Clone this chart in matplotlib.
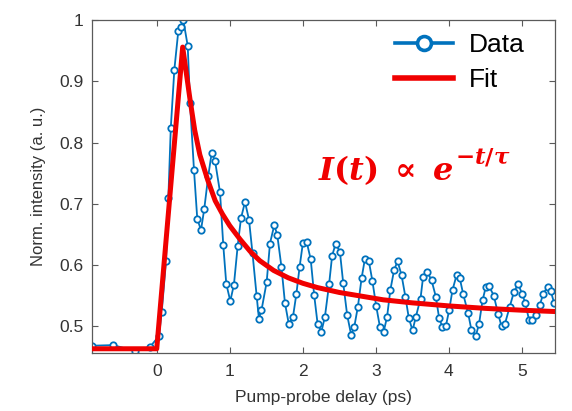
import matplotlib
matplotlib.use("Agg")
import matplotlib.pyplot as plt
from matplotlib.lines import Line2D

# ---- data ----
t_data = [-0.881, -0.594, -0.297, -0.092,
          0.031, 0.068, 0.127, 0.159, 0.192, 0.241, 0.295, 0.332, 0.364, 0.424,
          0.456, 0.510, 0.555, 0.606, 0.651, 0.706, 0.752, 0.798, 0.866, 0.911,
          0.952, 1.007, 1.057, 1.108, 1.153, 1.208, 1.263, 1.311, 1.368, 1.399,
          1.434, 1.505, 1.550, 1.609, 1.650, 1.707, 1.755, 1.807, 1.865, 1.912,
          1.956, 2.001, 2.052, 2.108, 2.155, 2.202, 2.254, 2.302, 2.360, 2.401,
          2.450, 2.508, 2.553, 2.607, 2.661, 2.703, 2.754, 2.804, 2.850, 2.904,
          2.952, 3.004, 3.055, 3.107, 3.153, 3.198, 3.250, 3.297, 3.352, 3.404,
          3.451, 3.502, 3.547, 3.611, 3.647, 3.702, 3.762, 3.821, 3.866, 3.910,
          3.958, 4.003, 4.049, 4.104, 4.149, 4.194, 4.263, 4.309, 4.368, 4.413,
          4.460, 4.505, 4.546, 4.614, 4.673, 4.720, 4.765, 4.833, 4.888, 4.947,
          5.001, 5.045, 5.097, 5.144, 5.198, 5.243, 5.291, 5.350, 5.394, 5.440]
i_data = [0.468, 0.469, 0.459, 0.466,
          0.484, 0.523, 0.606, 0.709, 0.823, 0.919, 0.982, 0.989, 1.000, 0.958,
          0.864, 0.755, 0.675, 0.657, 0.692, 0.746, 0.783, 0.770, 0.719, 0.632,
          0.569, 0.541, 0.568, 0.631, 0.676, 0.703, 0.674, 0.619, 0.549, 0.512,
          0.526, 0.572, 0.635, 0.665, 0.649, 0.597, 0.538, 0.504, 0.515, 0.553,
          0.597, 0.636, 0.638, 0.609, 0.551, 0.504, 0.491, 0.515, 0.569, 0.615,
          0.635, 0.621, 0.570, 0.518, 0.486, 0.498, 0.532, 0.578, 0.610, 0.606,
          0.574, 0.533, 0.499, 0.491, 0.515, 0.559, 0.592, 0.606, 0.583, 0.548,
          0.513, 0.493, 0.515, 0.545, 0.581, 0.589, 0.575, 0.548, 0.513, 0.499,
          0.500, 0.526, 0.559, 0.583, 0.578, 0.553, 0.521, 0.493, 0.484, 0.504,
          0.542, 0.564, 0.566, 0.550, 0.520, 0.500, 0.503, 0.532, 0.555, 0.569,
          0.553, 0.538, 0.510, 0.510, 0.518, 0.534, 0.553, 0.564, 0.557, 0.538]

t_fit = [-0.885, 0.0, 0.355, 0.456, 0.52, 0.59, 0.70, 0.80, 0.90, 1.0, 1.14,
         1.28, 1.41, 1.6, 1.8, 2.0, 2.2, 2.5, 2.8, 3.1, 3.5, 4.0, 4.5, 5.0, 5.42]
i_fit = [0.463, 0.463, 0.956, 0.870, 0.820, 0.780, 0.738, 0.705, 0.683, 0.664,
         0.642, 0.622, 0.607, 0.591, 0.579, 0.570, 0.563, 0.555, 0.549, 0.543,
         0.538, 0.533, 0.529, 0.526, 0.524]

x_ticks = [0, 1, 2, 3, 4, 5]
y_ticks = [0.5, 0.6, 0.7, 0.8, 0.9, 1.0]
y_ticklabels = ["0.5", "0.6", "0.7", "0.8", "0.9", "1"]

BLUE = "#0072BD"
RED = "#F00000"

plt.rcParams["font.family"] = ["Liberation Sans", "DejaVu Sans"]
plt.rcParams["mathtext.fontset"] = "custom"
plt.rcParams["mathtext.it"] = "DejaVu Serif:bold:italic"
plt.rcParams["mathtext.rm"] = "DejaVu Serif:bold"
plt.rcParams["mathtext.bf"] = "DejaVu Serif:bold"
plt.rcParams["mathtext.fallback"] = "stix"

fig = plt.figure(figsize=(5.72, 4.11), dpi=100)
ax = fig.add_axes([0.161, 0.141, 0.809, 0.810])

ax.plot(t_data, i_data, "-o", color=BLUE, lw=1.3, ms=4.6, mfc="white",
        mec=BLUE, mew=1.3, zorder=2)
ax.plot(t_fit, i_fit, "-", color=RED, lw=3.6, zorder=3,
        solid_joinstyle="round")

ax.set_xlim(-0.885, 5.45)
ax.set_ylim(0.456, 1.0)
ax.set_xticks(x_ticks)
ax.set_yticks(y_ticks)
ax.set_yticklabels(y_ticklabels)

spine_c = "#5a5a5a"
for s in ax.spines.values():
    s.set_color(spine_c)
    s.set_linewidth(0.9)
ax.tick_params(direction="in", top=True, right=True, length=4.5, width=0.8,
               color=spine_c, labelcolor="#333333", labelsize=12.5)
ax.tick_params(axis="x", pad=8)
ax.tick_params(axis="y", pad=6)

ax.set_xlabel("Pump-probe delay (ps)", fontsize=12.5, color="#333333", labelpad=8)
ax.set_ylabel("Norm. intensity (a. u.)", fontsize=12, color="#333333", labelpad=10)

handles = [
    Line2D([], [], color=BLUE, lw=2.6, marker="o", ms=10, mfc="white",
           mec=BLUE, mew=2.6),
    Line2D([], [], color=RED, lw=4),
]
ax.legend(handles, ["Data", "Fit"], loc="upper left",
          bbox_to_anchor=(0.654, 0.962), frameon=False, fontsize=19,
          handlelength=2.2, handletextpad=0.62, labelspacing=0.42,
          borderpad=0, borderaxespad=0)

t1 = ax.text(0.488, 0.52, r"$I(t)\;\propto\; e$", transform=ax.transAxes,
             color=RED, fontsize=23, ha="left", va="baseline")
fig.canvas.draw()
bb = t1.get_window_extent(renderer=fig.canvas.get_renderer())
x_disp = bb.x1 + 1
y_disp = ax.transAxes.transform((0.488, 0.52))[1] + 16
xa, ya = ax.transAxes.inverted().transform((x_disp, y_disp))
ax.text(xa, ya, r"$-t/\tau$", transform=ax.transAxes,
        color=RED, fontsize=16.5, ha="left", va="baseline")

fig.savefig("out.png", dpi=100)
